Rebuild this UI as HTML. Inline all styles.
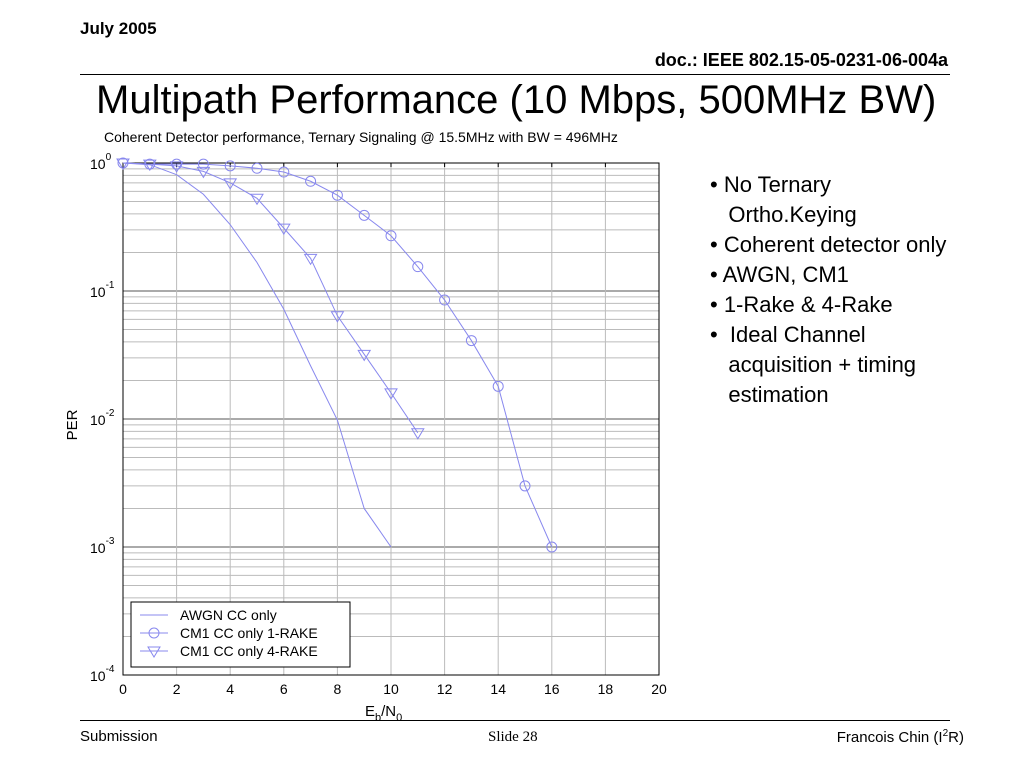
<!DOCTYPE html>
<html><head><meta charset="utf-8">
<style>
body{margin:0;background:#fff;font-family:"Liberation Sans",sans-serif;}
#wrap{position:relative;width:1024px;height:768px;overflow:hidden;}
.abs{position:absolute;white-space:nowrap;}
</style></head>
<body><div id="wrap">
<div class="abs" style="left:80px;top:19px;font-size:17px;font-weight:bold;">July 2005</div>
<div class="abs" style="right:76px;top:50px;font-size:18px;font-weight:bold;">doc.: IEEE 802.15-05-0231-06-004a</div>
<div class="abs" style="left:80px;top:74px;width:870px;height:1px;background:#000;"></div>
<div class="abs" style="left:96px;top:78px;font-size:40px;">Multipath Performance (10 Mbps, 500MHz BW)</div>
<div class="abs" style="left:104px;top:129px;font-size:14px;">Coherent Detector performance, Ternary Signaling @ 15.5MHz with BW = 496MHz</div>
<ul class="abs" style="left:690px;top:170px;margin:0;padding-left:20px;font-size:22px;line-height:30px;list-style:none;">
<li>• No Ternary<br>&nbsp;&nbsp;&nbsp;Ortho.Keying</li>
<li>• Coherent detector only</li>
<li>• AWGN, CM1</li>
<li>• 1-Rake &amp; 4-Rake</li>
<li>•&nbsp; Ideal Channel<br>&nbsp;&nbsp;&nbsp;acquisition + timing<br>&nbsp;&nbsp;&nbsp;estimation</li>
</ul>
<div class="abs" style="left:80px;top:720px;width:870px;height:1px;background:#000;"></div>
<div class="abs" style="left:80px;top:728px;font-size:15px;">Submission</div>
<div class="abs" style="left:488px;top:729px;font-size:15px;font-family:'Liberation Serif',serif;">Slide 28</div>
<div class="abs" style="right:60px;top:728px;font-size:15px;">Francois Chin (I<sup style="font-size:10px">2</sup>R)</div>
<svg id="chart" width="1024" height="768" style="position:absolute;left:0;top:0;" xmlns="http://www.w3.org/2000/svg"></svg>
</div>
<script>
const xTicks=[0,2,4,6,8,10,12,14,16,18,20];
const yDecades=[0,-1,-2,-3,-4];
const ebnoAwgn=[0,1,2,3,4,5,6,7,8,9,10];
const perAwgn=[1.0,0.97,0.81,0.57,0.33,0.167,0.072,0.026,0.0098,0.002,0.001];
const ebno1=[0,1,2,3,4,5,6,7,8,9,10,11,12,13,14,15,16];
const per1=[1.0,0.98,0.98,0.98,0.95,0.91,0.85,0.72,0.56,0.39,0.27,0.155,0.085,0.041,0.018,0.003,0.001];
const ebno4=[0,1,2,3,4,5,6,7,8,9,10,11];
const per4=[1.0,0.98,0.95,0.86,0.70,0.53,0.31,0.18,0.064,0.032,0.016,0.0078];
const L=123,R=659,T=163,B=675;
const sx=v=>L+(v-0)/20*(R-L);
const sy=v=>T+(0-Math.log10(v))/4*(B-T);
const svg=document.getElementById('chart');
const NS='http://www.w3.org/2000/svg';
function mk(tag,a){const e=document.createElementNS(NS,tag);for(const k in a)e.setAttribute(k,a[k]);svg.appendChild(e);return e;}
// grid
for(const d of yDecades){if(d===0)continue;for(let m=1;m<10;m++){const v=m*Math.pow(10,d);const y=sy(v);
const g=mk('line',{x1:L,x2:R,y1:y,y2:y,stroke:m===1?'#555':'#bbb','stroke-width':1});
}}
for(const t of xTicks){const x=sx(t);
const g=mk('line',{x1:x,x2:x,y1:T,y2:B,stroke:'#bbb','stroke-width':1});

const lb=mk('text',{x:x,y:B+19,'font-size':14,'text-anchor':'middle','font-family':'Liberation Sans'});lb.textContent=t;

const tk=mk('line',{x1:x,x2:x,y1:T,y2:T+4,stroke:'#000'});}
const fr=mk('rect',{x:L,y:T,width:R-L,height:B-T,fill:'none',stroke:'#000','stroke-width':1});

for(const d of yDecades){const y=sy(Math.pow(10,d));
const t=mk('text',{x:90,y:y+6,'font-size':14,'font-family':'Liberation Sans'});
t.innerHTML='10<tspan dy="-9" font-size="10">'+d+'</tspan>';
}
const yt=mk('text',{x:0,y:0,'font-size':15,'text-anchor':'middle','font-family':'Liberation Sans',transform:'translate(77,425) rotate(-90)'});yt.textContent='PER';

const xt=mk('text',{x:365,y:716,'font-size':15,'font-family':'Liberation Sans'});xt.innerHTML='E<tspan dy="5" font-size="11">b</tspan><tspan dy="-5">/N</tspan><tspan dy="5" font-size="11">0</tspan>';

const col='#8888ee';
function series(xs,ys,name,marker){
const p=mk('polyline',{points:xs.map((x,i)=>sx(x)+','+sy(ys[i])).join(' '),fill:'none',stroke:col,'stroke-width':1});

if(marker)xs.forEach((x,i)=>{const cx=sx(x),cy=sy(ys[i]);let m;
if(marker==='o')m=mk('circle',{cx:cx,cy:cy,r:5,fill:'none',stroke:col});
else m=mk('polygon',{points:`${cx-6},${cy-4} ${cx+6},${cy-4} ${cx},${cy+6}`,fill:'none',stroke:col});
});}
series(ebnoAwgn,perAwgn,'awgn','');
series(ebno1,per1,'cm1-1rake','o');
series(ebno4,per4,'cm1-4rake','v');
// legend
const lg=mk('rect',{x:131,y:602,width:219,height:65,fill:'#fff',stroke:'#000'});

const labs=['AWGN CC only','CM1 CC only 1-RAKE','CM1 CC only 4-RAKE'],mks=['','o','v'];
labs.forEach((s,i)=>{const y=615+i*18;
const ln=mk('line',{x1:140,x2:168,y1:y,y2:y,stroke:col});
if(mks[i]==='o'){const c=mk('circle',{cx:154,cy:y,r:5,fill:'none',stroke:col});}
if(mks[i]==='v'){const c=mk('polygon',{points:`148,${y-4} 160,${y-4} 154,${y+6}`,fill:'none',stroke:col});}
const t=mk('text',{x:180,y:y+5,'font-size':14,'font-family':'Liberation Sans'});t.textContent=s;
});
</script>
</body></html>
